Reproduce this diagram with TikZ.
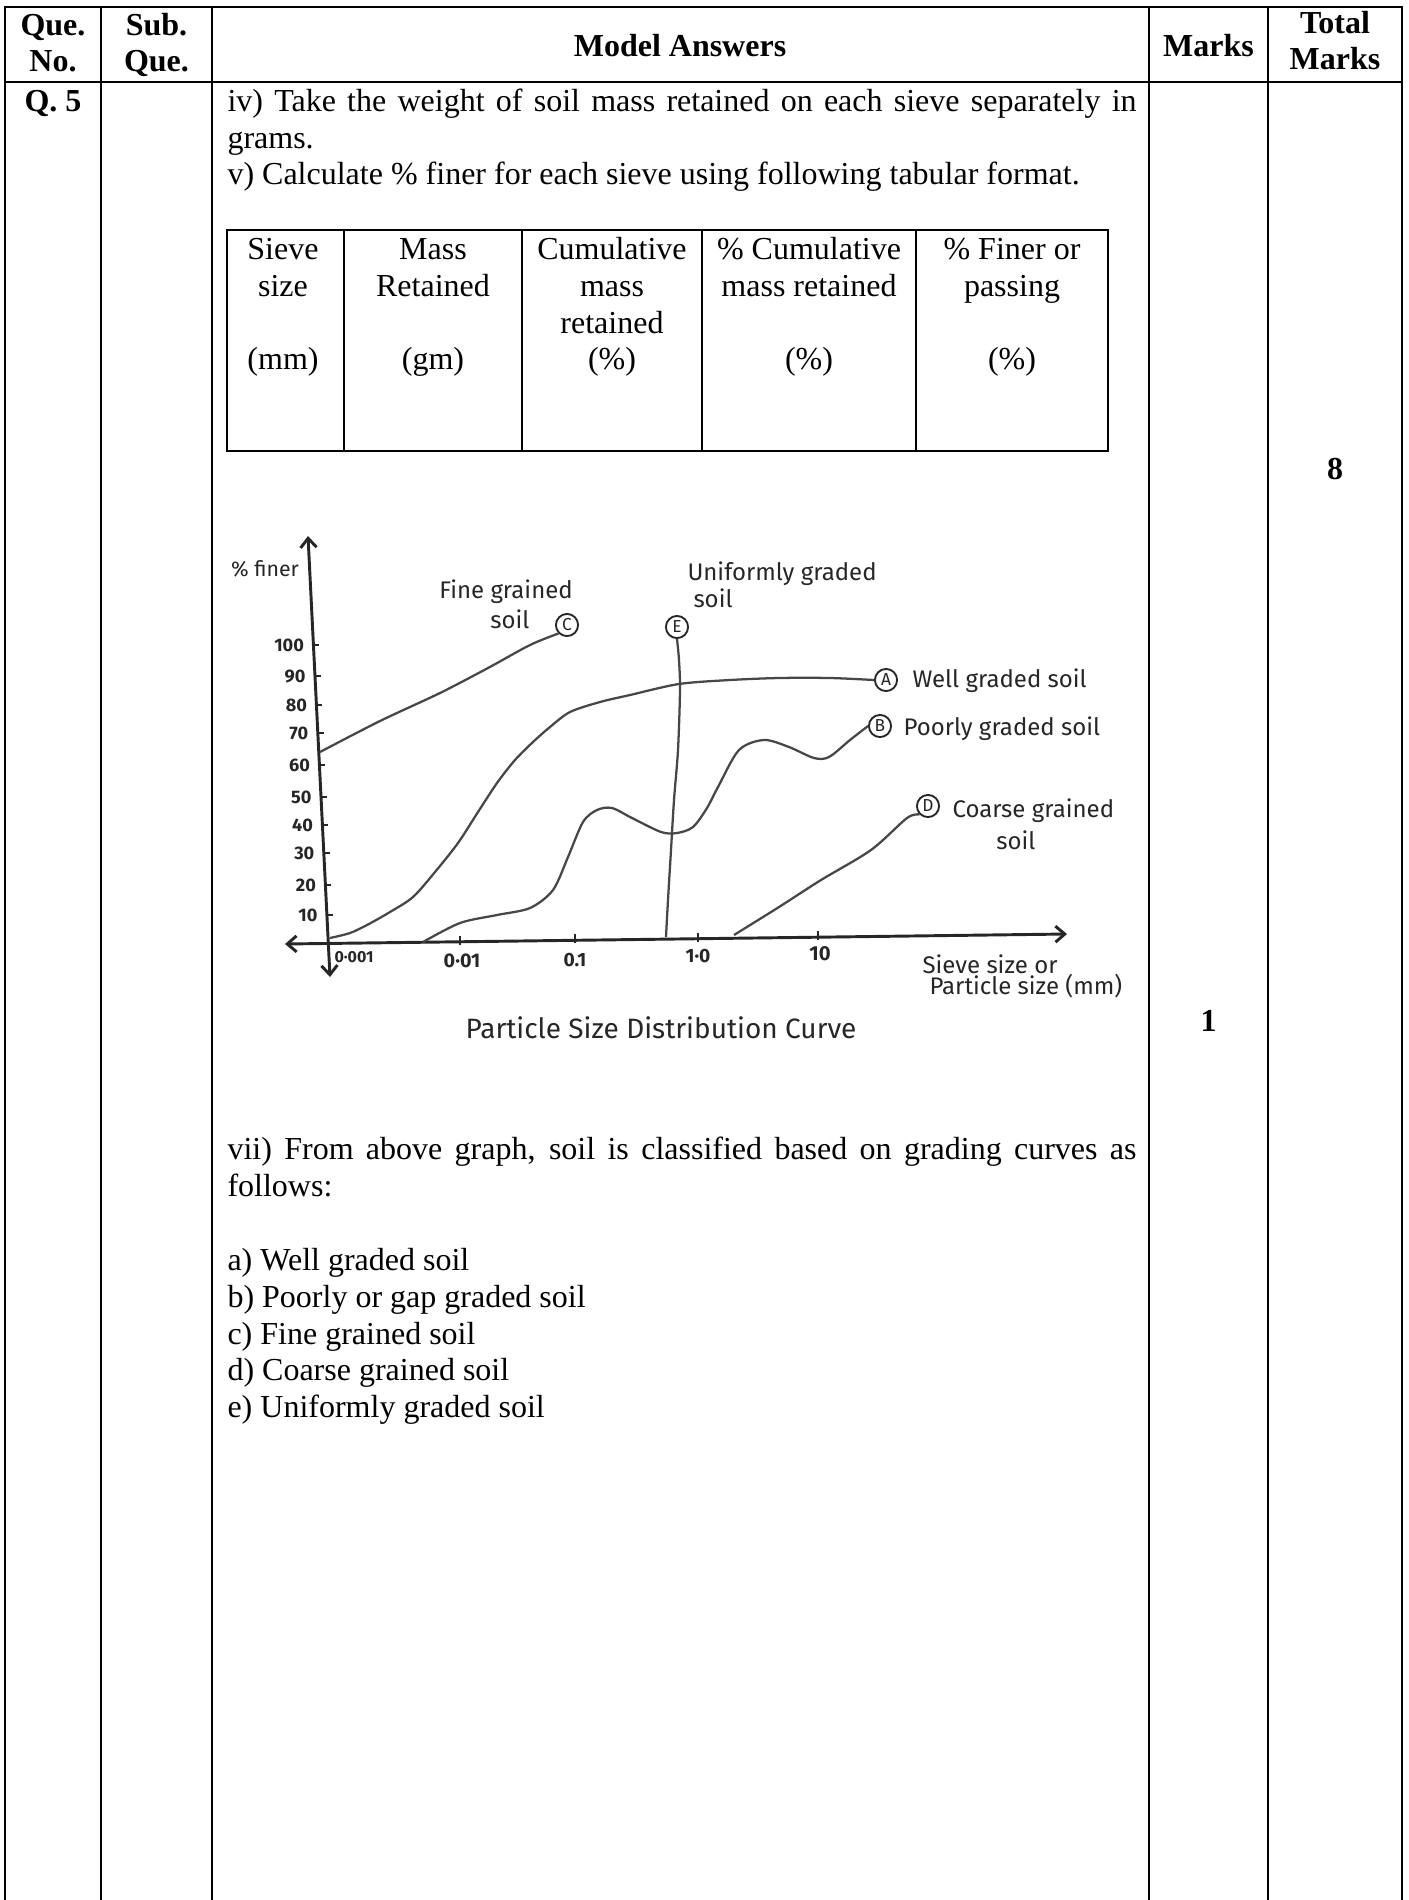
\documentclass[tikz,border=0pt]{standalone}
\usepackage{fontspec}
\setmainfont{Liberation Serif}
\newfontfamily\handfont{Fira Sans}
\usetikzlibrary{arrows.meta}
\newcommand\jline[1]{\makebox[340.9pt][s]{#1}}
\begin{document}
\begin{tikzpicture}[x=0.375pt,y=-0.375pt,
  frame/.style={line width=0.85pt, black},
  tbl/.style={line width=0.75pt, black},
  hdr/.style={font=\fontsize{12}{13.8}\selectfont\bfseries, anchor=base, inner sep=0},
  body/.style={font=\fontsize{12}{13.8}\selectfont, anchor=base west, inner sep=0},
  cell/.style={font=\fontsize{12}{13.8}\selectfont, anchor=base, inner sep=0},
  axis/.style={line width=1.1pt, black!85},
  tick/.style={line width=0.8pt, black!85},
  curve/.style={line width=0.85pt, black!72},
  tip/.style={{Straight Barb[length=3.5pt,width=6pt]}-{Straight Barb[length=3.5pt,width=6pt]}},
  hw/.style={font=\handfont\fontsize{9}{10.5}\selectfont, inner sep=0, text=black!85},
  num/.style={font=\handfont\fontsize{6.8}{7}\selectfont\bfseries, inner sep=0, text=black!85},
  lab/.style={circle, draw=black!85, line width=0.7pt, minimum size=8.3pt, inner sep=0,
              font=\handfont\fontsize{6.5}{7}\selectfont, text=black!85}
]
\useasboundingbox (0,0) rectangle (1408,1900);
% outer grid
\draw[frame] (5,1900) -- (5,7) -- (1402,7) -- (1402,1900);
\draw[frame] (5,82) -- (1402,82);
\foreach \x in {101,212,1149,1268} \draw[frame] (\x,7) -- (\x,1900);

% header
\node[hdr] (hq1) at (53,35) {Que.};
\node[hdr] (hq2) at (53,71) {No.};
\node[hdr] (hs1) at (156.5,35) {Sub.};
\node[hdr] (hs2) at (156.5,71) {Que.};
\node[hdr] (hm) at (680,56) {Model Answers};
\node[hdr] (hk) at (1208.5,56) {Marks};
\node[hdr] (ht1) at (1335,33) {Total};
\node[hdr] (ht2) at (1335,69) {Marks};

% row
\node[hdr] (q5) at (53,111) {Q. 5};
\node[body] (l1) at (227,111) {\jline{iv) Take the weight of soil mass retained on each sieve separately in}};
\node[body] (l2) at (227,148) {grams.};
\node[body] (l3) at (227,184) {v) Calculate \% finer for each sieve using following tabular format.};

% sieve table
\draw[tbl] (227,230) rectangle (1108,451);
\foreach \x in {344,522,702,916} \draw[tbl] (\x,230) -- (\x,451);
\node[cell] (c11) at (283,259) {Sieve};
\node[cell] (c12) at (283,296) {size};
\node[cell] (c14) at (283,369) {(mm)};
\node[cell] (c21) at (433,259) {Mass};
\node[cell] (c22) at (433,296) {Retained};
\node[cell] (c24) at (433,369) {(gm)};
\node[cell] (c31) at (612,259) {Cumulative};
\node[cell] (c32) at (612,296) {mass};
\node[cell] (c33) at (612,333) {retained};
\node[cell] (c34) at (612,369) {(\%)};
\node[cell] (c41) at (809,259) {\% Cumulative};
\node[cell] (c42) at (809,296) {mass retained};
\node[cell] (c44) at (809,369) {(\%)};
\node[cell] (c51) at (1012,259) {\% Finer or};
\node[cell] (c52) at (1012,296) {passing};
\node[cell] (c54) at (1012,369) {(\%)};

% marks
\node[hdr] (m8) at (1335,479) {8};
\node[hdr] (m1) at (1208.5,1031) {1};

% ---------- graph ----------
\coordinate (ytop) at (308,536);
\coordinate (ybot) at (330,977);
\coordinate (xl) at (285,944);
\coordinate (xr) at (1067,934);
\draw[axis,tip] (ybot) -- (ytop);
\draw[axis,tip] (xl) -- (xr);
\foreach \v/\y in {100/645,90/676,80/705,70/733,60/765,50/797,40/825,30/853,20/885,10/915}{
  \pgfmathsetmacro\ax{308+0.05*(\y-536)}
  \draw[tick] (\ax-1,\y) -- (\ax+6,\y);
  \node[num, anchor=east] (yl\v) at (\ax-9,\y) {\v};
}
\foreach \x in {460,575,698,818}{
  \pgfmathsetmacro\ay{944-0.0128*(\x-285)}
  \draw[tick] (\x,\ay-6) -- (\x,\ay+3);
}
\node[num, font=\handfont\fontsize{6}{6}\selectfont\bfseries] (x1) at (354,957) {0·001};
\node[num, font=\handfont\fontsize{7.4}{8}\selectfont\bfseries] (x2) at (462,961) {0·01};
\node[num, font=\handfont\fontsize{7.2}{8}\selectfont\bfseries] (x3) at (575,960) {0.1};
\node[num, font=\handfont\fontsize{7.2}{8}\selectfont\bfseries] (x4) at (698,956) {1·0};
\node[num, font=\handfont\fontsize{7.6}{8}\selectfont\bfseries] (x5) at (820,954) {10};

\node[lab] (cA) at (886,680) {A};
\node[lab] (cB) at (880,726) {B};
\node[lab] (cC) at (567,625) {C};
\node[lab] (cD) at (928,806) {D};
\node[lab] (cE) at (677,627) {E};

% C fine grained
\draw[curve] plot[smooth] coordinates {(320,752) (380,721) (440,693) (488,668) (530,645) (cC.south west)};
% A well graded
\draw[curve] plot[smooth] coordinates {(330,938) (350,933) (367,925) (390,912) (413,897) (435,872) (458,843) (478,812) (497,783) (515,760) (533,742) (550,727) (570,712) (600,702) (630,695) (679,684) (730,680) (779,678) (830,678) (cA.west)};
% B poorly graded
\draw[curve] plot[smooth] coordinates {(423,942) (460,923) (497,915) (530,908) (553,890) (568,857) (583,822) (597,810) (612,808) (632,818) (661,832) (677,833) (693,827) (707,808) (718,787) (739,750) (764,740) (789,747) (814,758) (829,757) (850,740) (cB.west)};
% E uniformly graded
\draw[curve] plot[smooth] coordinates {(cE.south) (679,660) (680,690) (678,750) (674,800) (671,850) (668,900) (666,937)};
% D coarse grained
\draw[curve] plot[smooth] coordinates {(734,935) (779,907) (821,880) (871,850) (907,818) (cD.south west)};

\node[hw, anchor=west] (tA) at (912,681) {Well graded soil};
\node[hw, anchor=west] (tB) at (903,729) {Poorly graded soil};
\node[hw, anchor=west] (tD1) at (952,811) {Coarse grained};
\node[hw] (tD2) at (1016,840) {soil};
\node[hw] (tC1) at (506,592) {Fine grained};
\node[hw] (tC2) at (510,619) {soil};
\node[hw, anchor=west] (tE1) at (687,574) {Uniformly graded};
\node[hw, anchor=west] (tE2) at (693,598) {soil};
\node[hw, font=\handfont\fontsize{8}{9}\selectfont] (ty) at (265,569) {\% finer};
\node[hw, anchor=west] (tx1) at (922,964) {Sieve size or};
\node[hw, anchor=west] (tx2) at (929,986) {Particle size (mm)};
\node[hw, font=\handfont\fontsize{10.5}{12}\selectfont] (title) at (661,1028) {Particle Size Distribution Curve};

% ---------- classification ----------
\node[body] (l7) at (227,1159) {\jline{vii) From above graph, soil is classified based on grading curves as}};
\node[body] (l8) at (227,1196) {follows:};
\node[body] (la) at (227,1270) {a) Well graded soil};
\node[body] (lb) at (227,1307) {b) Poorly or gap graded soil};
\node[body] (lc) at (227,1344) {c) Fine grained soil};
\node[body] (ld) at (227,1380) {d) Coarse grained soil};
\node[body] (le) at (227,1417) {e) Uniformly graded soil};
\end{tikzpicture}
\end{document}
